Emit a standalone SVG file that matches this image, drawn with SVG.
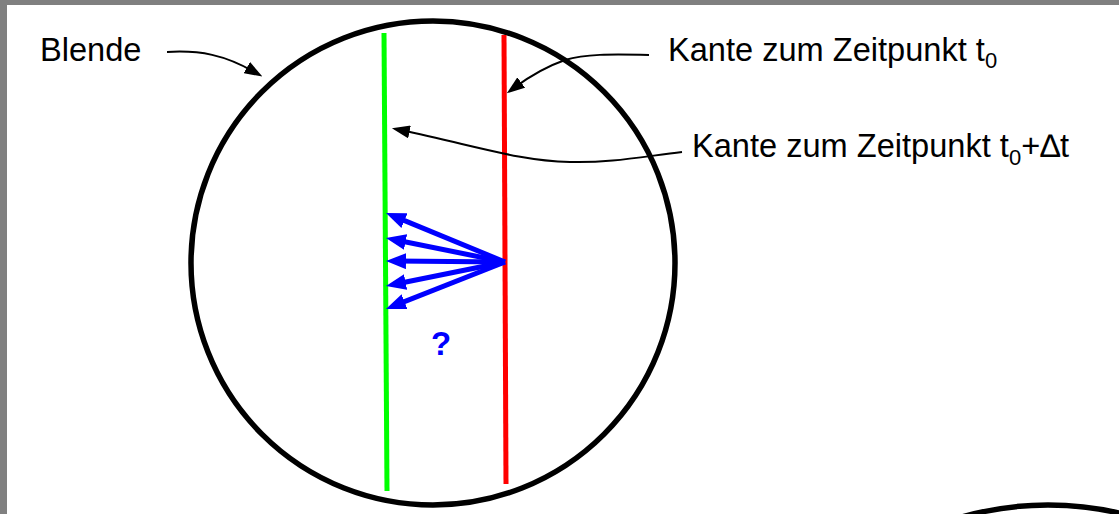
<svg xmlns="http://www.w3.org/2000/svg" width="1119" height="514" viewBox="0 0 1119 514">
<defs>
<style>
.lbl{font-family:"Liberation Sans",Arial,sans-serif;font-size:32.6px;fill:#000}
.sub{font-size:22px}
.aperture{fill:none;stroke:#000;stroke-width:5.5}
.conn{fill:none;stroke:#000;stroke-width:2}
.ray{stroke:#0000ff;stroke-width:5;fill:none}
</style>
<marker id="ah" markerUnits="userSpaceOnUse" markerWidth="18" markerHeight="13" refX="9" refY="6.5" orient="auto" viewBox="0 0 18 13">
<path d="M0,0 L18,6.5 L0,13 z" fill="#000"/>
</marker>
<marker id="bh" markerUnits="userSpaceOnUse" markerWidth="20" markerHeight="16" refX="11" refY="8" orient="auto" viewBox="0 0 20 16">
<path d="M0,0 L20,8 L0,16 z" fill="#0000ff"/>
</marker>
</defs>
<rect x="0" y="0" width="1119" height="514" fill="#808080"/>
<rect x="7" y="5" width="1112" height="509" fill="#fff"/>
<g id="blende">
<circle class="aperture" cx="433" cy="263" r="242"/>
</g>
<g id="blende2">
<circle class="aperture" cx="1048" cy="820" r="315"/>
</g>
<g id="kante-t0">
<line x1="504" y1="35" x2="506" y2="484" stroke="#ff0000" stroke-width="5"/>
</g>
<g id="kante-t0-dt">
<line x1="384" y1="33" x2="387" y2="491" stroke="#00ff00" stroke-width="5"/>
</g>
<g id="rays">
<line class="ray" x1="505" y1="262" x2="394.3" y2="216.4" marker-end="url(#bh)"/>
<line class="ray" x1="505" y1="262" x2="394.8" y2="239.8" marker-end="url(#bh)"/>
<line class="ray" x1="505" y1="262" x2="395" y2="261.1" marker-end="url(#bh)"/>
<line class="ray" x1="505" y1="262" x2="394.8" y2="284.2" marker-end="url(#bh)"/>
<line class="ray" x1="505" y1="262" x2="394.3" y2="305.7" marker-end="url(#bh)"/>
</g>
<g id="question">
<text x="441" y="355" text-anchor="middle" style="font-family:'Liberation Sans',Arial,sans-serif;font-weight:bold;font-size:33px;fill:#0000ff">?</text>
</g>
<g id="label-blende">
<text class="lbl" x="40" y="61">Blende</text>
</g>
<g id="label-t0">
<text class="lbl" x="668" y="61">Kante zum Zeitpunkt t<tspan class="sub" dy="7">0</tspan></text>
</g>
<g id="label-t0dt">
<text class="lbl" x="692" y="157">Kante zum Zeitpunkt t<tspan class="sub" dy="8">0</tspan><tspan dy="-8">+∆t</tspan></text>
</g>
<g id="connectors">
<path class="conn" d="M167,52 C200,50 225,55 254.6,72.1" marker-end="url(#ah)"/>
<path class="conn" d="M649,55 C610,54 585,54 565,60 C545,67 530,76 514,87.9" marker-end="url(#ah)"/>
<path class="conn" d="M682,152 C640,157 610,163 570,162 C520,161 480,147 400.7,130.1" marker-end="url(#ah)"/>
</g>
</svg>
